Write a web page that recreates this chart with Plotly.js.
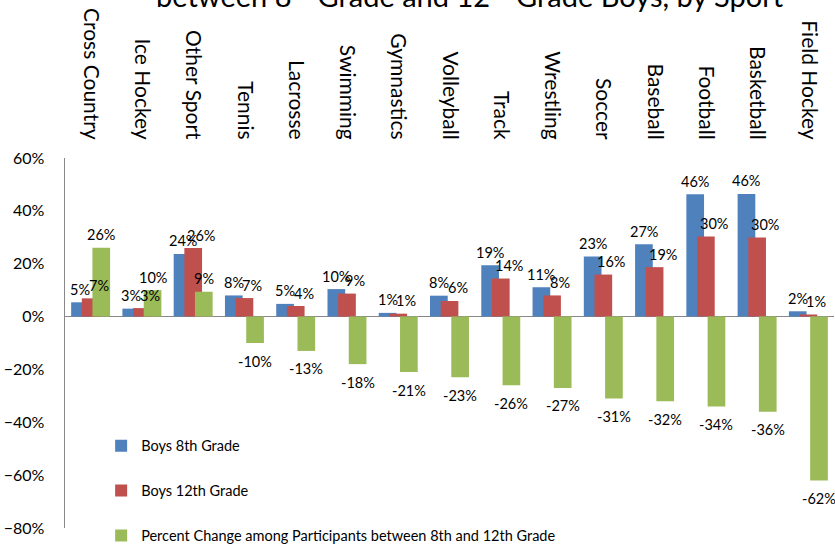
<!DOCTYPE html>
<html><head><meta charset="utf-8">
<script src="https://cdn.plot.ly/plotly-3.0.1.min.js"></script>
<style>html,body{margin:0;padding:0;background:#fff;}#chart{width:835px;height:544px;}</style>
</head><body><div id="chart"></div>
<script>
var sports = ["Cross Country","Ice Hockey","Other Sport","Tennis","Lacrosse","Swimming","Gymnastics","Volleyball","Track","Wrestling","Soccer","Baseball","Football","Basketball","Field Hockey"];
var boys8 = [0.054,0.03,0.237,0.08,0.048,0.104,0.014,0.079,0.194,0.111,0.227,0.274,0.463,0.464,0.02];
var boys12 = [0.069,0.032,0.259,0.070,0.04,0.087,0.011,0.059,0.144,0.080,0.159,0.187,0.303,0.299,0.008];
var pctChange = [0.26,0.10,0.094,-0.10,-0.13,-0.18,-0.21,-0.23,-0.26,-0.27,-0.31,-0.32,-0.34,-0.36,-0.62];
var seriesNames = ["Boys 8th Grade","Boys 12th Grade","Percent Change among Participants between 8th and 12th Grade"];

var colors = ["#4F81BD","#C0504D","#9BBB59"];
var offsets = [-0.38,-0.172,0.035];
var barW = 0.345;
var labelXShift = [0,8,0];
var FONT = "Lato, 'Open Sans', sans-serif";
var allSeries = [boys8, boys12, pctChange];

var traces = allSeries.map(function(vals, s){
  return {
    type:"bar", x:sports, y:vals, name:seriesNames[s],
    marker:{color:colors[s], line:{width:0}},
    width:barW, offset:offsets[s],
    legendgroup:"g"+s, hoverinfo:"skip"
  };
});

var annotations = [];
allSeries.forEach(function(vals, s){
  vals.forEach(function(v, i){
    annotations.push({
      xref:"x", yref:"y", x:i + offsets[s] + barW/2, y:v,
      text: Math.round(v*100) + "%", showarrow:false,
      xanchor:"center", yanchor:"middle",
      xshift: labelXShift[s], yshift: v >= 0 ? 13 : -18,
      font:{family:FONT, size:14.5, color:"#000"}
    });
  });
});

annotations.push({
  xref:"paper", yref:"paper", x:0.527, y:1, yanchor:"bottom", xanchor:"center",
  yshift:143, showarrow:false,
  text:"between 8<sup>th</sup> Grade and 12<sup>th</sup> Grade Boys, by Sport",
  font:{family:FONT, size:29, color:"#000"}
});

var layout = {
  width:835, height:544,
  margin:{l:65, r:1, t:158, b:16, pad:0, autoexpand:false},
  paper_bgcolor:"#fff", plot_bgcolor:"#fff",
  barmode:"overlay",
  showlegend:true,
  legend:{x:0.047, y:0.21, xref:"paper", yref:"container", xanchor:"left", yanchor:"top", bgcolor:"rgba(0,0,0,0)",
    font:{family:FONT, size:14.5, color:"#000"}, tracegroupgap:23, itemwidth:30},
  xaxis:{type:"category", side:"top", tickangle:90, showline:false, showgrid:false, zeroline:false,
    ticks:"outside", ticklen:10, tickcolor:"rgba(0,0,0,0)", automargin:false,
    tickfont:{family:FONT, size:21, color:"#000"}, range:[-0.5,14.5], fixedrange:true},
  yaxis:{range:[-0.8,0.6], tickvals:[-0.8,-0.6,-0.4,-0.2,0,0.2,0.4,0.6], tickformat:".0%",
    showline:true, linecolor:"#888", linewidth:1.5, showgrid:false, automargin:false,
    zeroline:true, zerolinecolor:"#888", zerolinewidth:1.5,
    ticks:"outside", ticklen:16, tickcolor:"rgba(0,0,0,0)",
    tickfont:{family:FONT, size:16, color:"#000"}},
  annotations:annotations
};

Plotly.newPlot("chart", traces, layout, {displayModeBar:false, staticPlot:true});
</script></body></html>
